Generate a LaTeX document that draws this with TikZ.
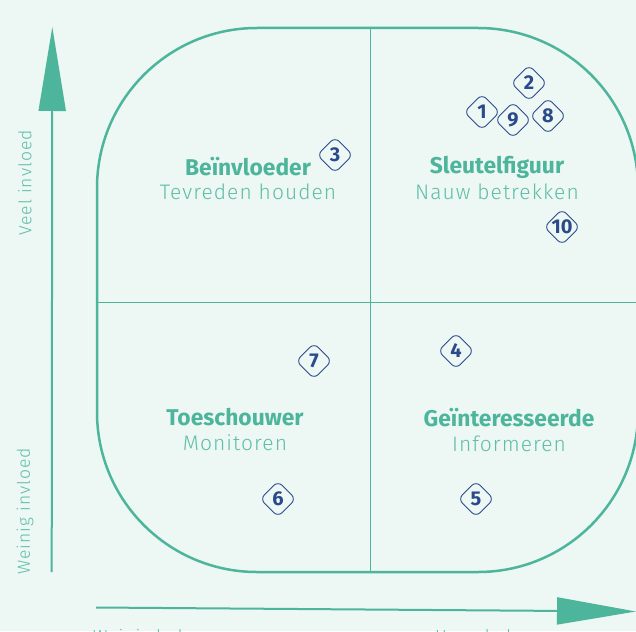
\documentclass[tikz,border=0pt]{standalone}
\usepackage{fontspec}
\setmainfont{Fira Sans}
\newfontfamily\dun[LetterSpace=5]{Fira Sans Light}
\newfontfamily\dunas[LetterSpace=6]{Fira Sans Light}
\usetikzlibrary{arrows.meta,shapes.geometric}
\definecolor{achter}{HTML}{EDF7F4}
\definecolor{groen}{HTML}{4DB59B}
\definecolor{lichtgroen}{HTML}{5FBEA6}
\definecolor{blauw}{HTML}{2B4A8C}

\begin{document}
\begin{tikzpicture}[x=1pt, y=-1pt,
    titel/.style={text=groen, font=\bfseries\fontsize{22.8}{24}\selectfont},
    taak/.style={text=lichtgroen, font=\dun\fontsize{21}{23}\selectfont},
    as/.style={text=lichtgroen, inner sep=0pt, font=\dunas\fontsize{17.5}{19}\selectfont},
    nr/.style={diamond, draw=blauw, line width=0.9pt, rounded corners=6pt,
               minimum size=36pt, inner sep=0pt, text=blauw,
               font=\bfseries\fontsize{20}{20}\selectfont}]
    \fill[achter] (0, 0) rectangle (636, 631);
    \useasboundingbox (0, 0) rectangle (636, 631);
    % kwadranten
    \draw[groen, line width=2.5pt, rounded corners=160pt] (97, 28) rectangle (638, 572);
    \draw[groen, line width=1pt] (370, 28) -- (370, 572)
                                 (97, 302) -- (637, 302);
    % assen
    \coordinate (y0) at (51.7, 572);
    \coordinate (y1) at (52.3, 27);
    \coordinate (x0) at (96, 607.5);
    \coordinate (x1) at (636, 611.5);
    \draw[groen, line width=2pt, -{Triangle[length=84pt, width=27pt]}] (y0) -- (y1);
    \draw[groen, line width=2pt, -{Triangle[length=79pt, width=27pt]}] (x0) -- (x1);
    \node (veel) [as, rotate=90, anchor=west] at (25, 236) {Veel invloed};
    \node (weinig) [as, rotate=90, anchor=west] at (25, 575) {Weinig invloed};
    \node (laag) [as, anchor=north west] at (93, 629.5) {Weinig belang};
    \node (hoog) [as, anchor=north west] at (435, 629.5) {Hoog belang};
    % titels
    \node (b) [titel] at (248, 167) {Beïnvloeder};
    \node (bt) [taak] at (248, 192) {Tevreden houden};
    \node (s) [titel] at (497, 167) {Sleutelfiguur};
    \node (st) [taak] at (497, 192) {Nauw betrekken};
    \node (t) [titel] at (235, 417) {Toeschouwer};
    \node (tt) [taak] at (235, 443) {Monitoren};
    \node (g) [titel] at (509, 418) {Geïnteresseerde};
    \node (gt) [taak] at (509, 444) {Informeren};
    % belanghebbenden
    \node (n1) [nr] at (482, 112) {1};
    \node (n2) [nr] at (529, 83) {2};
    \node (n3) [nr] at (335, 155) {3};
    \node (n4) [nr] at (456, 351) {4};
    \node (n5) [nr] at (476, 499) {5};
    \node (n6) [nr] at (278, 499) {6};
    \node (n7) [nr] at (314, 361) {7};
    \node (n8) [nr] at (548, 116) {8};
    \node (n9) [nr] at (513, 120) {9};
    \node (n10) [nr] at (562, 227) {10};
\end{tikzpicture}
\end{document}
